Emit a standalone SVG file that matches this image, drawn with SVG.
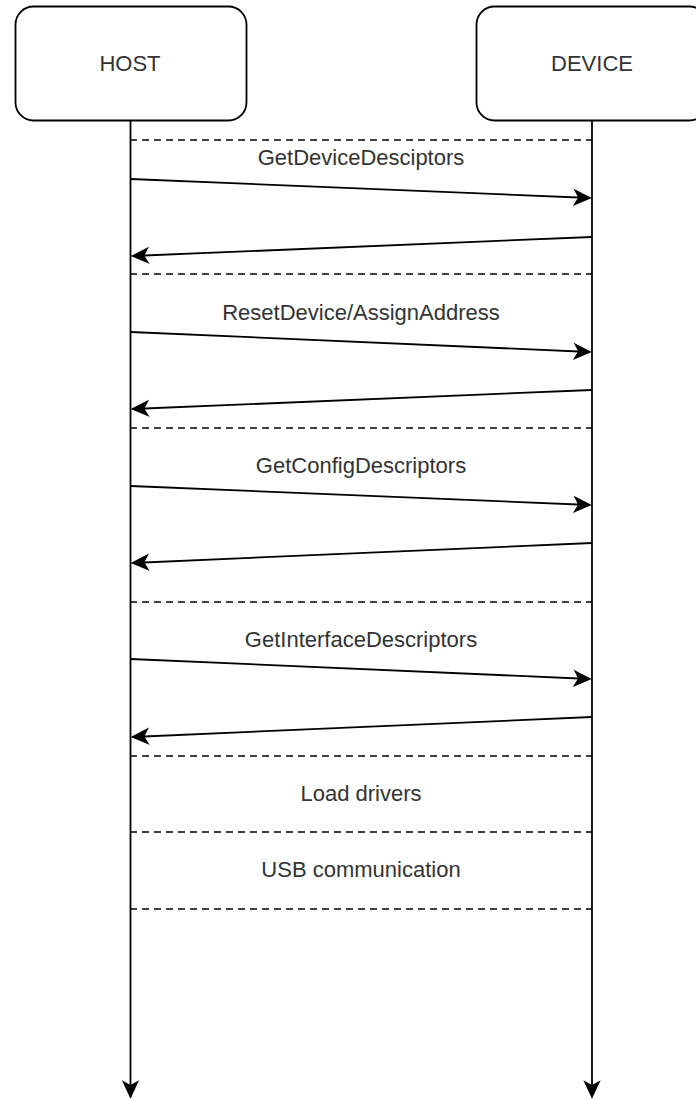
<svg xmlns="http://www.w3.org/2000/svg" width="696" height="1099" viewBox="0 0 696 1099">
<style>
.box{fill:#fff;stroke:#000;stroke-width:1.8}
.lbl{font-family:"Liberation Sans",Arial,sans-serif;font-size:22px;fill:#333;text-anchor:middle}
.msg{stroke:#000;stroke-width:1.8;fill:none;marker-end:url(#ah)}
.sep{stroke:#000;stroke-width:1.5;stroke-dasharray:7 5;fill:none}
</style>
<defs>
<marker id="ah" markerUnits="userSpaceOnUse" markerWidth="18" markerHeight="16" refX="15" refY="7" orient="auto" overflow="visible">
<path d="M0,0 L15,7 L0,14 L4,7 Z" fill="#000" stroke="#000" stroke-width="1.5" stroke-linejoin="miter"/>
</marker>
</defs>
<rect width="696" height="1099" fill="#fff"/>
<g id="host">
<rect class="box" x="15.5" y="6.5" width="231" height="114" rx="18"/>
<text class="lbl" x="130" y="71">HOST</text>
</g>
<g id="device">
<rect class="box" x="476.5" y="6.5" width="231" height="114" rx="18"/>
<text class="lbl" x="592" y="71">DEVICE</text>
</g>
<g id="connectors">
<line class="msg" x1="130.5" y1="121" x2="130.5" y2="1097"/>
<line class="msg" x1="592" y1="121" x2="592" y2="1097"/>
<line class="sep" x1="130" y1="140" x2="592" y2="140"/>
<line class="sep" x1="130" y1="274" x2="592" y2="274"/>
<line class="sep" x1="130" y1="428" x2="592" y2="428"/>
<line class="sep" x1="130" y1="602" x2="592" y2="602"/>
<line class="sep" x1="130" y1="756" x2="592" y2="756"/>
<line class="sep" x1="130" y1="832" x2="592" y2="832"/>
<line class="sep" x1="130" y1="909" x2="592" y2="909"/>
<line class="msg" x1="130.5" y1="179" x2="590" y2="198"/>
<line class="msg" x1="592" y1="237" x2="132.5" y2="256"/>
<line class="msg" x1="130.5" y1="332" x2="590" y2="352"/>
<line class="msg" x1="592" y1="390" x2="132.5" y2="409"/>
<line class="msg" x1="130.5" y1="486" x2="590" y2="505"/>
<line class="msg" x1="592" y1="543" x2="132.5" y2="563"/>
<line class="msg" x1="130.5" y1="659" x2="590" y2="679"/>
<line class="msg" x1="592" y1="717" x2="132.5" y2="737"/>
</g>
<g id="labels">
<text class="lbl" x="361" y="165">GetDeviceDesciptors</text>
<text class="lbl" x="361" y="320">ResetDevice/AssignAddress</text>
<text class="lbl" x="361" y="473">GetConfigDescriptors</text>
<text class="lbl" x="361" y="647">GetInterfaceDescriptors</text>
<text class="lbl" x="361" y="801">Load drivers</text>
<text class="lbl" x="361" y="877">USB communication</text>
</g>
</svg>
